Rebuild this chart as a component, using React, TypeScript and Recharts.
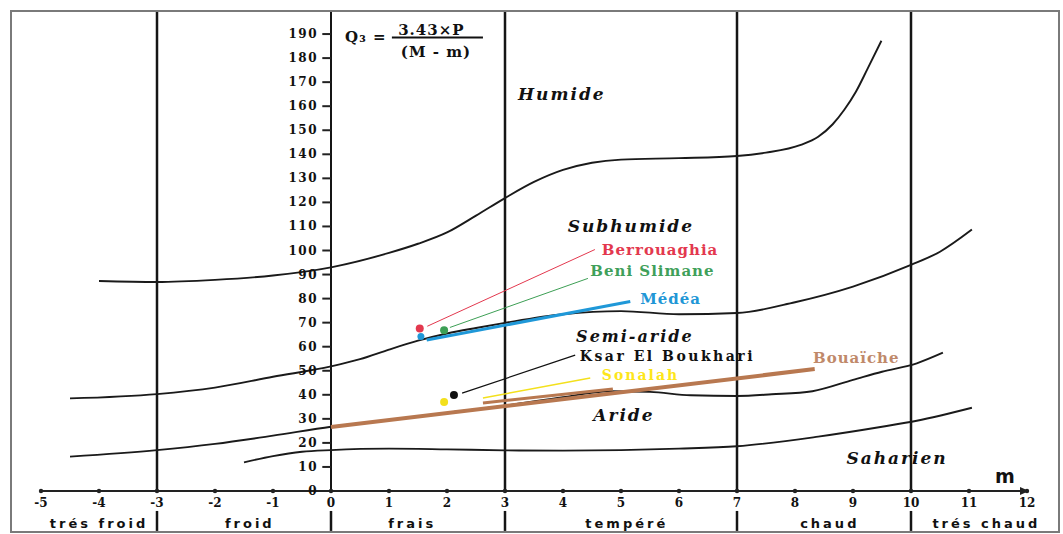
import React from 'react';
import { ComposedChart, Line, XAxis, YAxis, ReferenceLine, ReferenceDot } from 'recharts';

type Pt = { m: number; q: number };

// Emberger climagram: limits between bioclimatic stages (m in °C, Q3)
const humideLimit: Pt[] = [
  { m: -4, q: 87.3 }, { m: -3, q: 86.9 }, { m: -2, q: 87.8 }, { m: -1, q: 89.6 },
  { m: 0, q: 93 }, { m: 1, q: 99 }, { m: 1.5, q: 102.8 }, { m: 2, q: 107.5 },
  { m: 2.5, q: 114.5 }, { m: 3, q: 121.8 }, { m: 3.5, q: 128.5 }, { m: 4, q: 133.5 },
  { m: 4.5, q: 136.5 }, { m: 5, q: 137.8 }, { m: 6, q: 138.4 }, { m: 7, q: 139.3 },
  { m: 7.5, q: 140.7 }, { m: 8.1, q: 143.9 }, { m: 8.4, q: 147.3 }, { m: 8.65, q: 152.5 },
  { m: 8.85, q: 158.5 }, { m: 9.05, q: 166 }, { m: 9.25, q: 175.5 }, { m: 9.49, q: 187.2 },
];

const subhumideLimit: Pt[] = [
  { m: -4.5, q: 38.5 }, { m: -3, q: 40.3 }, { m: -2, q: 43 }, { m: -1, q: 47.5 },
  { m: 0, q: 51.8 }, { m: 0.5, q: 54.8 }, { m: 1, q: 58.8 }, { m: 1.5, q: 62.5 },
  { m: 2, q: 65.5 }, { m: 2.5, q: 67.8 }, { m: 3, q: 69.9 }, { m: 4, q: 73.5 },
  { m: 5, q: 74.8 }, { m: 6, q: 73.5 }, { m: 7, q: 74 }, { m: 8, q: 78.5 },
  { m: 9, q: 85 }, { m: 10, q: 94 }, { m: 10.5, q: 99.5 }, { m: 11.05, q: 108.7 },
];

const semiarideLimit: Pt[] = [
  { m: -4.5, q: 14.3 }, { m: -3, q: 17 }, { m: -2, q: 19.6 }, { m: -1, q: 23 },
  { m: 0, q: 26.7 }, { m: 1, q: 29.5 }, { m: 2, q: 32.5 }, { m: 3, q: 35.5 },
  { m: 4, q: 39 }, { m: 4.8, q: 41.5 }, { m: 5.5, q: 41.2 }, { m: 6.2, q: 39.8 },
  { m: 7, q: 39.5 }, { m: 7.6, q: 40.2 }, { m: 8.3, q: 41.5 }, { m: 9, q: 46.2 },
  { m: 9.5, q: 49.6 }, { m: 10.1, q: 53.1 }, { m: 10.55, q: 57.5 },
];

const arideLimit: Pt[] = [
  { m: -1.5, q: 11.9 }, { m: -1, q: 14.5 }, { m: -0.5, q: 16.3 }, { m: 0, q: 17 },
  { m: 1, q: 17.6 }, { m: 2, q: 17.3 }, { m: 3, q: 16.9 }, { m: 4, q: 16.8 },
  { m: 5, q: 17 }, { m: 6, q: 17.6 }, { m: 7, q: 18.6 }, { m: 8.4, q: 22.6 },
  { m: 9.5, q: 26.7 }, { m: 10.1, q: 29.2 }, { m: 11.05, q: 34.6 },
];

// Axes
const mTicks = [-5, -4, -3, -2, -1, 0, 1, 2, 3, 4, 5, 6, 7, 8, 9, 10, 11, 12];
const qTicks = [0, 10, 20, 30, 40, 50, 60, 70, 80, 90, 100, 110, 120, 130, 140, 150, 160, 170, 180, 190];

// Winter variants (thermal classes of m)
const thermalLimits = [-3, 0, 3, 7, 10];
const thermalNames = ['trés froid', 'froid', 'frais', 'tempéré', 'chaud', 'trés chaud'];
const thermalCenters = [-4, -1.4, 1.4, 5.1, 8.6, 11.3];
// the class row sits under the m axis, below Q3 = 0
const thermalRowQ = -13.7;
const thermalRuleQ = [-8.3, -16.6];

// Bioclimatic stage names and where they are written
const stageNames = ['Humide', 'Subhumide', 'Semi-aride', 'Aride', 'Saharien'];
const stageM = [3.98, 5.17, 5.24, 5.05, 9.76];
const stageQ = [165, 110.2, 64.4, 31.6, 13.7];

// Stations
const stationNames = ['Berrouaghia', 'Beni Slimane', 'Médéa', 'Ksar El Boukhari', 'Sonalah', 'Bouaïche'];
const stationM = [1.53, 1.95, 1.55, 2.12, 1.95, 0];
const stationQ = [67.6, 66.8, 64.2, 39.9, 37, 26.6];
const leaderFromM = [1.66, 2.05, 1.65, 2.26, 2.62, 0];
const leaderFromQ = [68.5, 68, 62.8, 40.7, 38.7, 26.6];
const leaderToM = [4.55, 4.43, 5.16, 4.21, 4.47, 8.34];
const leaderToQ = [100.4, 88.4, 78.8, 56.5, 47, 50.7];
const labelM = [4.67, 4.47, 5.33, 4.29, 4.67, 8.31];
const labelQ = [100.2, 91.3, 80, 56.1, 48.2, 55.3];
// second stroke drawn alongside the Bouaïche line
const bouaicheDoubleM = [2.62, 4.86];
const bouaicheDoubleQ = [36.6, 42.4];

// Styling for the station series
const stationColors = ['#e3384e', '#3d9f55', '#1f98d8', '#111111', '#f3e01c', '#b87850'];
const stationTextColors = ['#e3384e', '#3fa05a', '#2196d6', '#111111', '#fde61a', '#c0896a'];
const stationLineWidths = [1, 1, 3, 1.2, 1.5, 4];
const stationDotSizes = [4, 4, 3.5, 4, 4, 0];
const stationFontSizes = [15, 15, 15, 14, 14, 15];
const stationSpacing = [1, 1, 1, 2.5, 2, 1];

const W = 1063;
const H = 534;
const SERIF = '"DejaVu Serif", "Liberation Serif", serif';
const SANS = '"DejaVu Sans", "Liberation Sans", sans-serif';

type TextOpts = {
  size: number;
  color?: string;
  weight?: string | number;
  italic?: boolean;
  family?: string;
  spacing?: number;
  anchor?: 'start' | 'middle' | 'end';
  dx?: number;
  dy?: number;
};

// Label renderer: places text at the centre of the reference element's box
const textLabel = (value: string, o: TextOpts) => (props: any) => {
  const vb = props.viewBox || {};
  const x = (vb.x ?? 0) + (vb.width ?? 0) / 2 + (o.dx ?? 0);
  const y = (vb.y ?? 0) + (vb.height ?? 0) / 2 + (o.dy ?? 0);
  return (
    <text
      x={x}
      y={y}
      textAnchor={o.anchor ?? 'middle'}
      dominantBaseline="central"
      fill={o.color ?? '#111'}
      style={{
        fontFamily: o.family ?? SERIF,
        fontSize: o.size,
        fontWeight: o.weight ?? 'bold',
        fontStyle: o.italic ? 'italic' : 'normal',
        letterSpacing: o.spacing ?? 0,
      }}
    >
      {value}
    </text>
  );
};

const MTick = (p: any) => (
  <text
    x={p.x}
    y={p.y + 16}
    textAnchor="middle"
    fill="#111"
    style={{ fontFamily: SERIF, fontSize: 12, fontWeight: 'bold' }}
  >
    {p.payload.value}
  </text>
);

const ArrowHead = (p: any) => (
  <path d={`M${p.cx - 7},${p.cy - 4} L${p.cx + 2},${p.cy} L${p.cx - 7},${p.cy + 4} Z`} fill="#222" />
);

export default function App() {
  const limits = [humideLimit, subhumideLimit, semiarideLimit, arideLimit];
  return (
    <div style={{ position: 'absolute', left: 0, top: 0, width: W, height: H, background: '#fff' }}>
      <ComposedChart width={W} height={H} margin={{ top: 10, right: 36, bottom: 0, left: 41 }}>
        <XAxis
          type="number"
          dataKey="m"
          domain={[-5, 12]}
          ticks={mTicks}
          interval={0}
          height={43}
          tickSize={0}
          tickMargin={0}
          tickLine={false}
          axisLine={{ stroke: '#222', strokeWidth: 2 }}
          tick={MTick}
        />
        <YAxis type="number" domain={[0, 200]} hide width={0} />

        {/* thermal class limits and the Q3 axis */}
        {thermalLimits.map((v) => (
          <ReferenceLine key={`v${v}`} x={v} stroke="#151515" strokeWidth={v === 0 ? 2 : 2.5} />
        ))}

        {/* thermal class row under the m axis */}
        {thermalLimits.map((v) => (
          <ReferenceLine
            key={`vr${v}`}
            segment={[{ x: v, y: thermalRuleQ[0] }, { x: v, y: thermalRuleQ[1] }]}
            ifOverflow="visible"
            stroke="#151515"
            strokeWidth={2.5}
          />
        ))}
        {thermalNames.map((n, i) => (
          <ReferenceDot
            key={`tn${i}`}
            x={thermalCenters[i]}
            y={thermalRowQ}
            r={0}
            fill="none"
            stroke="none"
            ifOverflow="visible"
            label={textLabel(n, { size: 13, family: SANS, spacing: 3 })}
          />
        ))}

        {/* Q3 axis ticks and labels */}
        {qTicks.map((v) => (
          <ReferenceLine
            key={`qt${v}`}
            segment={[{ x: -0.15, y: v }, { x: 0, y: v }]}
            stroke="#222"
            strokeWidth={2}
          />
        ))}
        {qTicks.map((v) => (
          <ReferenceDot
            key={`ql${v}`}
            x={0}
            y={v}
            r={0}
            fill="none"
            stroke="none"
            label={textLabel(String(v), { size: 12, anchor: 'end', dx: -13, spacing: 1.5 })}
          />
        ))}

        {/* m axis tick dots and arrow */}
        {mTicks.map((v) => (
          <ReferenceDot key={`md${v}`} x={v} y={0} r={2.2} fill="#222" stroke="none" />
        ))}
        <ReferenceDot x={12} y={0} r={0} shape={ArrowHead} />
        <ReferenceDot
          x={11.62}
          y={6.2}
          r={0}
          fill="none"
          stroke="none"
          label={textLabel('m', { size: 19, family: SANS })}
        />

        {/* bioclimatic stage limits */}
        {limits.map((d, i) => (
          <Line
            key={`lim${i}`}
            data={d}
            dataKey="q"
            type="monotone"
            stroke="#1a1a1a"
            strokeWidth={1.9}
            dot={false}
            activeDot={false}
            isAnimationActive={false}
          />
        ))}

        {/* stage names */}
        {stageNames.map((n, i) => (
          <ReferenceDot
            key={`st${i}`}
            x={stageM[i]}
            y={stageQ[i]}
            r={0}
            fill="none"
            stroke="none"
            label={textLabel(n, { size: i === 2 ? 16 : 17, italic: true, spacing: 2 })}
          />
        ))}

        {/* formula */}
        <ReferenceDot x={0.6} y={188.8} r={0} fill="none" stroke="none"
          label={textLabel('Q₃ =', { size: 15, spacing: 1 })} />
        <ReferenceDot x={1.73} y={191.6} r={0} fill="none" stroke="none"
          label={textLabel('3.43×P', { size: 15, spacing: 1 })} />
        <ReferenceDot x={1.81} y={182.6} r={0} fill="none" stroke="none"
          label={textLabel('(M - m)', { size: 15, spacing: 1 })} />
        <ReferenceLine segment={[{ x: 1.05, y: 188.6 }, { x: 2.62, y: 188.6 }]} stroke="#111" strokeWidth={2} />

        {/* stations: leader lines, points and names */}
        {stationNames.map((n, i) => (
          <ReferenceLine
            key={`ld${i}`}
            segment={[
              { x: leaderFromM[i], y: leaderFromQ[i] },
              { x: leaderToM[i], y: leaderToQ[i] },
            ]}
            stroke={stationColors[i]}
            strokeWidth={stationLineWidths[i]}
          />
        ))}
        <ReferenceLine
          segment={[
            { x: bouaicheDoubleM[0], y: bouaicheDoubleQ[0] },
            { x: bouaicheDoubleM[1], y: bouaicheDoubleQ[1] },
          ]}
          stroke={stationColors[5]}
          strokeWidth={3}
        />
        {stationNames.map((n, i) =>
          stationDotSizes[i] > 0 ? (
            <ReferenceDot
              key={`sd${i}`}
              x={stationM[i]}
              y={stationQ[i]}
              r={stationDotSizes[i]}
              fill={stationColors[i]}
              stroke="none"
            />
          ) : null
        )}
        {stationNames.map((n, i) => (
          <ReferenceDot
            key={`sl${i}`}
            x={labelM[i]}
            y={labelQ[i]}
            r={0}
            fill="none"
            stroke="none"
            label={textLabel(n, {
              size: stationFontSizes[i],
              anchor: 'start',
              color: stationTextColors[i],
              spacing: stationSpacing[i],
            })}
          />
        ))}
      </ComposedChart>
      <div
        style={{
          position: 'absolute',
          left: 10,
          top: 10,
          width: 1046,
          height: 519,
          border: '2px solid #7a7a7a',
          pointerEvents: 'none',
        }}
      />
    </div>
  );
}
